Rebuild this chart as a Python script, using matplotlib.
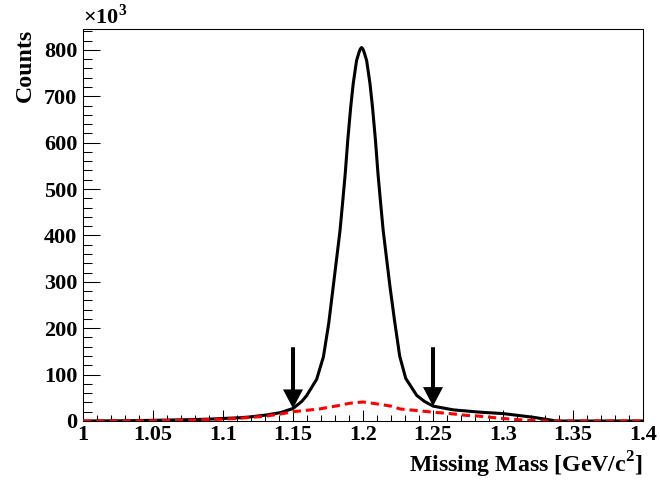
import matplotlib
matplotlib.use("Agg")
import matplotlib.pyplot as plt
from matplotlib.ticker import MultipleLocator, FuncFormatter

# ---- data (counts in units of 10^3) ----
total_x = [1.000, 1.030, 1.050, 1.070, 1.090, 1.100, 1.112, 1.120, 1.131, 1.141,
           1.150, 1.1562, 1.1598, 1.1669, 1.1717, 1.1755, 1.1787, 1.1816, 1.1836,
           1.1856, 1.1873, 1.1891, 1.1912, 1.1930, 1.1954, 1.1972, 1.1981, 1.1990,
           1.1999, 1.2008, 1.2026, 1.2050, 1.2068, 1.2089, 1.2107, 1.2124, 1.2144,
           1.2164, 1.2193, 1.2225, 1.2262, 1.2305, 1.2384, 1.2440, 1.2502,
           1.2645, 1.2836, 1.3000, 1.3217, 1.3300, 1.3370, 1.3400, 1.4000]
total_y = [0.0, 0.5, 1.5, 2.5, 4.0, 5.5, 7.0, 9.0, 13.0, 18.0,
           27.0, 42.0, 55.0, 90.0, 138.0, 210.0, 289.0, 361.0, 411.0,
           476.0, 533.0, 605.0, 676.0, 727.0, 777.0, 795.0, 802.0, 805.0,
           802.0, 795.0, 777.0, 727.0, 676.0, 605.0, 533.0, 476.0, 411.0,
           361.0, 289.0, 217.0, 140.0, 92.0, 55.0, 42.0, 32.0,
           24.0, 19.0, 16.0, 8.0, 4.0, 0.5, 0.0, 0.0]

bkg_x = [1.000, 1.050, 1.080, 1.100, 1.112, 1.129, 1.141, 1.150, 1.169, 1.182,
         1.190, 1.200, 1.212, 1.220, 1.2264, 1.240, 1.250, 1.262, 1.274, 1.281,
         1.298, 1.310, 1.322, 1.330, 1.400]
bkg_y = [0.0, 0.5, 2.0, 4.0, 6.0, 10.0, 15.0, 20.0, 26.0, 33.0,
         38.0, 41.0, 36.0, 32.0, 26.0, 22.0, 19.0, 16.0, 12.0, 11.0,
         6.0, 3.0, 0.8, 0.0, 0.0]

arrow_x = [1.15, 1.25]
arrow_tip = [27.0, 32.0]
arrow_tail = [159.0, 159.0]

xticks = [1.0, 1.05, 1.1, 1.15, 1.2, 1.25, 1.3, 1.35, 1.4]
yticks = [0, 100, 200, 300, 400, 500, 600, 700, 800]

plt.rcParams['font.family'] = ['Liberation Serif', 'DejaVu Serif']
plt.rcParams['font.weight'] = 'bold'
plt.rcParams['mathtext.fontset'] = 'custom'
plt.rcParams['mathtext.rm'] = 'Liberation Serif:bold'
plt.rcParams['mathtext.bf'] = 'Liberation Serif:bold'

fig = plt.figure(figsize=(6.6, 4.83), dpi=100)
ax = fig.add_axes([83/660, 1-421/483, (643-83)/660, (421-29)/483])

ax.plot(total_x, total_y, color='black', lw=2.2, solid_joinstyle='round', zorder=3)
ax.plot(bkg_x, bkg_y, color='#ff0000', lw=2.2, ls=(0, (2.7, 1.6)), zorder=4)

for xa, yt, yb in zip(arrow_x, arrow_tip, arrow_tail):
    ax.annotate('', xy=(xa, yt), xytext=(xa, yb),
                arrowprops=dict(arrowstyle='simple,head_length=1.37,head_width=1.44,tail_width=0.29',
                                color='black', lw=0, shrinkA=0, shrinkB=0,
                                mutation_scale=10), zorder=5)

ax.set_xlim(1.0, 1.4)
ax.set_ylim(0, 845)
ax.set_xticks(xticks)
ax.set_yticks(yticks)
ax.xaxis.set_minor_locator(MultipleLocator(0.01))
ax.yaxis.set_minor_locator(MultipleLocator(20))
ax.xaxis.set_major_formatter(FuncFormatter(lambda v, p: '%g' % round(v, 3)))
ax.yaxis.set_major_formatter(FuncFormatter(lambda v, p: '%d' % round(v)))

ax.tick_params(axis='both', which='both', direction='in', width=0.75, colors='black',
               top=False, right=False, labelsize=16)
ax.tick_params(axis='y', which='major', length=12.2, pad=4)
ax.tick_params(axis='y', which='minor', length=6.5)
ax.tick_params(axis='x', which='major', length=8, pad=3)
ax.tick_params(axis='x', which='minor', length=4.3)
for lab in ax.get_xticklabels() + ax.get_yticklabels():
    lab.set_fontweight('bold')
for s in ax.spines.values():
    s.set_linewidth(0.75)

ax.set_xlabel(r'Missing Mass [GeV/c$^{2}$]', fontsize=17.2, fontweight='bold',
              ha='right', va='top')
ax.xaxis.set_label_coords(1.0, -(450-421)/392)
ax.set_ylabel('Counts', fontsize=17.2, fontweight='bold', ha='right', va='bottom')
ax.yaxis.set_label_coords((36-83)/560, 1.0)

fig.text(83/660, 1-24/483, r'$\times$10$^{3}$', fontsize=16, fontweight='bold',
         ha='left', va='baseline')

fig.savefig('out.png', dpi=100, facecolor='white')
